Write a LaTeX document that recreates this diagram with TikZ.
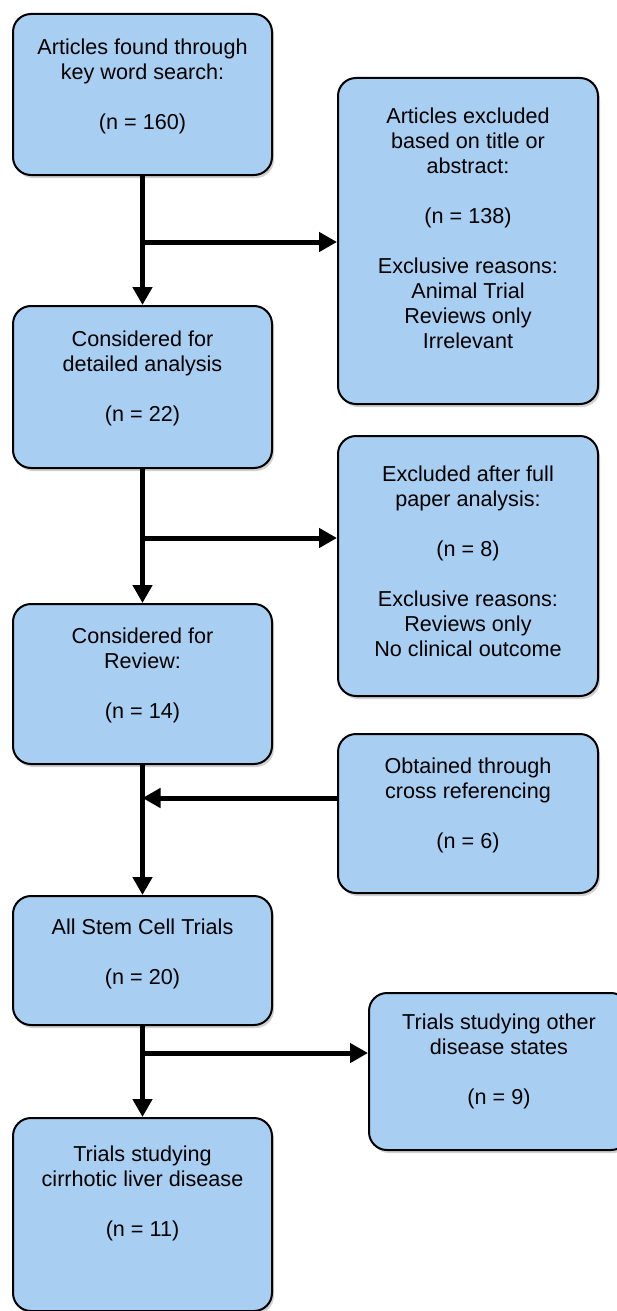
\documentclass[tikz,border=0pt]{standalone}
\usepackage{fontspec}
\setmainfont{Liberation Sans}
\usetikzlibrary{arrows.meta,shadows,calc}
\definecolor{boxblue}{RGB}{168,206,242}
\newcommand\bxt[4]{\parbox[c][#2][t]{#1}{\centering\fontsize{21.6}{25}\selectfont\vspace*{#3}\strut #4}}
\begin{document}
\begin{tikzpicture}[x=1pt,y=-1pt,
  fbox/.style={draw=black, line width=2pt, fill=boxblue, rounded corners=18pt, inner sep=0pt, anchor=north west,
    drop shadow={shadow xshift=2pt, shadow yshift=-3pt, fill=black, opacity=0.18}},
  arr/.style={line width=5pt, -{Triangle[length=18pt,width=19pt]}}]
\useasboundingbox (0,0) rectangle (617,1311);
\clip (0,0) rectangle (617,1311);
% left column
\node[fbox] (b1) at (12,13) {\bxt{259pt}{161pt}{23pt}{Articles found through\\key word search:\\[\baselineskip](n = 160)}};
\node[fbox] (b2) at (12,305) {\bxt{259pt}{162pt}{23pt}{Considered for\\detailed analysis\\[\baselineskip](n = 22)}};
\node[fbox] (b3) at (12,603) {\bxt{259pt}{160pt}{22pt}{Considered for\\Review:\\[\baselineskip](n = 14)}};
\node[fbox] (b4) at (12,895) {\bxt{259pt}{129pt}{21pt}{All Stem Cell Trials\\[\baselineskip](n = 20)}};
\node[fbox] (b5) at (12,1117) {\bxt{259pt}{193pt}{26pt}{Trials studying\\cirrhotic liver disease\\[\baselineskip](n = 11)}};
% right column
\node[fbox] (r1) at (337,77) {\bxt{260pt}{326pt}{28pt}{Articles excluded\\based on title or\\abstract:\\[\baselineskip](n = 138)\\[\baselineskip]Exclusive reasons:\\Animal Trial\\Reviews only\\Irrelevant}};
\node[fbox] (r2) at (337,435) {\bxt{260pt}{260pt}{28pt}{Excluded after full\\paper analysis:\\[\baselineskip](n = 8)\\[\baselineskip]Exclusive reasons:\\Reviews only\\No clinical outcome}};
\node[fbox] (r3) at (337,733) {\bxt{260pt}{159pt}{22pt}{Obtained through\\cross referencing\\[\baselineskip](n = 6)}};
\node[fbox] (r4) at (368,992) {\bxt{260pt}{157pt}{19pt}{Trials studying other\\disease states\\[\baselineskip](n = 9)}};
% junctions
\coordinate (j1) at (b1.south |- 0,242);
\coordinate (j2) at (b2.south |- 0,538);
\coordinate (j3) at (b3.south |- 0,798);
\coordinate (j4) at (b4.south |- 0,1053);
% connectors
\draw[arr] (b1.south) -- (b2.north);
\draw[arr] (j1) -- (j1 -| r1.west);
\draw[arr] (b2.south) -- (b3.north);
\draw[arr] (j2) -- (j2 -| r2.west);
\draw[arr] (b3.south) -- (b4.north);
\draw[arr] (j3 -| r3.west) -- (j3);
\draw[arr] (b4.south) -- (b5.north);
\draw[arr] (j4) -- (j4 -| r4.west);
\end{tikzpicture}
\end{document}
